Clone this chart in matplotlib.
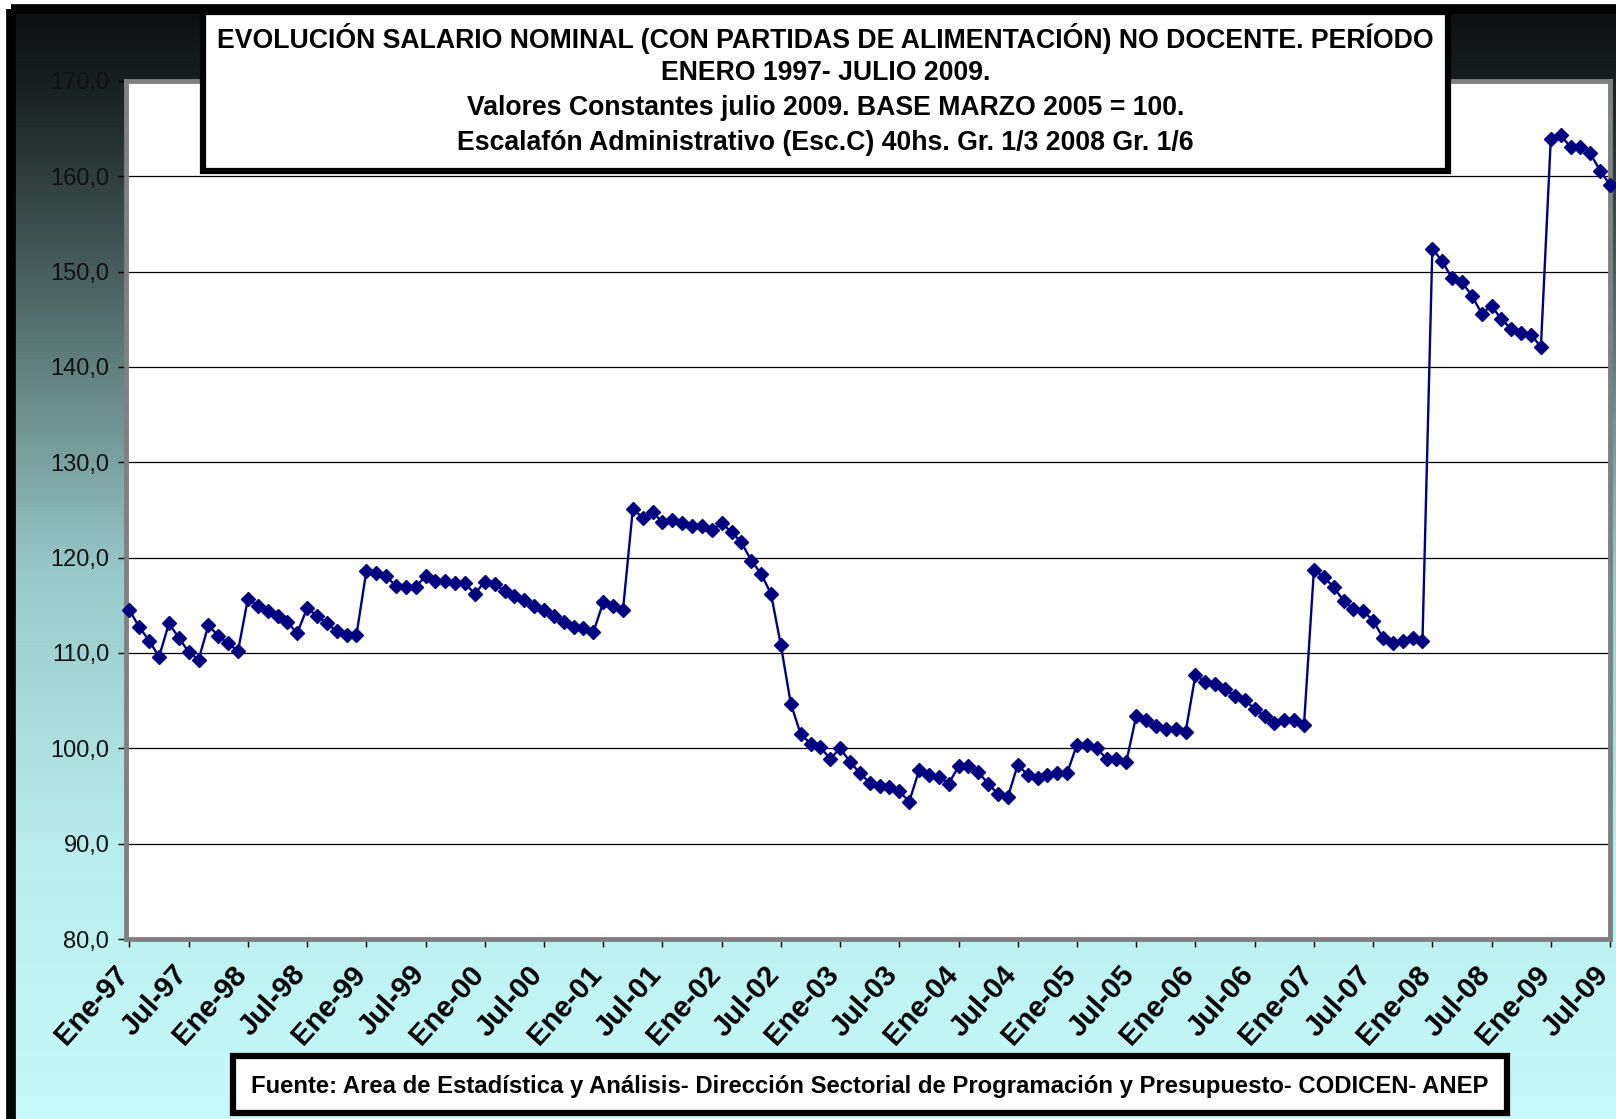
import numpy as np
import matplotlib
matplotlib.use("Agg")
import matplotlib.pyplot as plt
from matplotlib.patches import Rectangle
from matplotlib.ticker import FuncFormatter, FixedLocator
from matplotlib.transforms import ScaledTranslation

# ---------------- data ----------------
values_1997 = [114.5, 112.7, 111.3, 109.6, 113.1, 111.6, 110.1, 109.3, 112.9, 111.8, 111.0, 110.2]
values_1998 = [115.7, 114.9, 114.4, 113.9, 113.2, 112.1, 114.7, 113.9, 113.1, 112.3, 111.9, 111.9]
values_1999 = [118.6, 118.4, 118.1, 117.0, 116.9, 116.9, 118.1, 117.6, 117.6, 117.3, 117.3, 116.2]
values_2000 = [117.5, 117.2, 116.5, 116.0, 115.6, 114.9, 114.5, 113.9, 113.3, 112.7, 112.6, 112.2]
values_2001 = [115.3, 114.9, 114.5, 125.1, 124.2, 124.8, 123.7, 124.0, 123.6, 123.3, 123.3, 122.9]
values_2002 = [123.6, 122.7, 121.6, 119.7, 118.3, 116.2, 110.8, 104.7, 101.5, 100.5, 100.1, 98.9]
values_2003 = [100.0, 98.6, 97.4, 96.4, 96.1, 95.9, 95.5, 94.4, 97.7, 97.2, 97.0, 96.3]
values_2004 = [98.1, 98.1, 97.5, 96.3, 95.2, 94.9, 98.3, 97.2, 96.9, 97.2, 97.4, 97.4]
values_2005 = [100.4, 100.4, 100.0, 98.9, 98.9, 98.6, 103.4, 103.0, 102.3, 102.0, 102.0, 101.7]
values_2006 = [107.7, 107.0, 106.7, 106.2, 105.5, 105.1, 104.1, 103.4, 102.7, 103.0, 103.0, 102.5]
values_2007 = [118.7, 118.0, 116.9, 115.5, 114.6, 114.4, 113.4, 111.6, 111.0, 111.3, 111.6, 111.3]
values_2008 = [152.4, 151.1, 149.3, 148.9, 147.5, 145.6, 146.4, 145.0, 144.0, 143.6, 143.4, 142.1]
values_2009 = [163.9, 164.3, 163.1, 163.1, 162.4, 160.6, 159.1]

values = (values_1997 + values_1998 + values_1999 + values_2000 + values_2001 +
          values_2002 + values_2003 + values_2004 + values_2005 + values_2006 +
          values_2007 + values_2008 + values_2009)

tick_labels = ["Ene-97", "Jul-97", "Ene-98", "Jul-98", "Ene-99", "Jul-99",
               "Ene-00", "Jul-00", "Ene-01", "Jul-01", "Ene-02", "Jul-02",
               "Ene-03", "Jul-03", "Ene-04", "Jul-04", "Ene-05", "Jul-05",
               "Ene-06", "Jul-06", "Ene-07", "Jul-07", "Ene-08", "Jul-08",
               "Ene-09", "Jul-09"]
y_ticks = [80, 90, 100, 110, 120, 130, 140, 150, 160, 170]

title_lines = ["EVOLUCIÓN SALARIO NOMINAL (CON PARTIDAS DE ALIMENTACIÓN) NO DOCENTE. PERÍODO",
               "ENERO 1997- JULIO 2009.",
               "Valores Constantes julio 2009. BASE MARZO 2005 = 100.",
               "Escalafón Administrativo (Esc.C) 40hs. Gr. 1/3 2008 Gr. 1/6"]
source_text = "Fuente: Area de Estadística y Análisis- Dirección Sectorial de Programación y Presupuesto- CODICEN- ANEP"

# ---------------- figure ----------------
W, H = 1616, 1119
plt.rcParams['font.family'] = ['Liberation Sans', 'DejaVu Sans']
fig = plt.figure(figsize=(W / 100, H / 100), dpi=100, facecolor='white')

# background gradient + black frame
bg = fig.add_axes([0, 0, 1, 1], zorder=-10)
bg.set_xlim(0, W)
bg.set_ylim(H, 0)
bg.axis('off')
nodes_y = [0.0, 0.08, 0.25, 0.5, 0.75, 1.0]
nodes_c = np.array([[0.05, 0.06, 0.06],
                    [0.11, 0.14, 0.14],
                    [0.30, 0.40, 0.39],
                    [0.60, 0.79, 0.79],
                    [0.73, 0.93, 0.93],
                    [0.78, 0.98, 0.98]])
yy = np.linspace(0, 1, 400)
grad = np.stack([np.interp(yy, nodes_y, nodes_c[:, k]) for k in range(3)], axis=-1)
grad = np.repeat(grad[:, None, :], 2, axis=1)
bg.imshow(grad, extent=(10, W + 20, H + 20, 9), aspect='auto', zorder=0)
bg.add_patch(Rectangle((11, 9), W + 20, H + 20, fill=False, ec='black', lw=7, zorder=1))

# main axes
L, R, T, B = 126, 1610, 81, 939
ax = fig.add_axes([L / W, 1 - B / H, (R - L) / W, (B - T) / H])
ax.set_facecolor('white')
x = np.arange(len(values))
ax.plot(x, values, color='#000080', lw=1.7, marker='D', ms=7,
        mfc='#000080', mec='#000080', clip_on=False, zorder=3)
ax.set_xlim(-0.35, len(values) - 1)
ax.set_ylim(80, 170)
ax.yaxis.set_major_locator(FixedLocator(y_ticks))
ax.yaxis.set_major_formatter(FuncFormatter(lambda v, p: f"{v:.1f}".replace('.', ',')))
ax.grid(axis='y', color='black', lw=0.9)
ax.set_axisbelow(True)
ax.set_xticks(np.arange(0, len(values), 6))
ax.tick_params(axis='x', length=6, width=1, color='black', pad=14, direction='out')
ax.tick_params(axis='y', length=6, width=1, color='black', pad=6, labelsize=17,
               labelcolor='#111111')
ax.set_xticklabels(tick_labels, rotation=48, ha='right', va='center',
                   rotation_mode='anchor', fontweight='bold', fontsize=21)
off = ScaledTranslation(-0.06, -0.03, fig.dpi_scale_trans)
for lab in ax.get_xticklabels():
    lab.set_transform(lab.get_transform() + off)
for s in ax.spines.values():
    s.set_color('#808080')
    s.set_linewidth(3.5)

# title box
tx0, ty0, tx1, ty1 = 203, 12, 1448, 171
fig.patches.append(Rectangle((tx0 / W, 1 - ty1 / H), (tx1 - tx0) / W, (ty1 - ty0) / H,
                             transform=fig.transFigure, fc='white', ec='black',
                             lw=4.5, zorder=5))
for i, line in enumerate(title_lines):
    fig.text((tx0 + tx1) / 2 / W, 1 - (39 + 34.5 * i) / H, line, ha='center', va='center',
             fontsize=19.2, fontweight='bold', color='black', zorder=6)

# source box
sx0, sy0, sx1, sy1 = 233, 1056, 1507, 1113
fig.patches.append(Rectangle((sx0 / W, 1 - sy1 / H), (sx1 - sx0) / W, (sy1 - sy0) / H,
                             transform=fig.transFigure, fc='white', ec='black',
                             lw=4.5, zorder=5))
fig.text((sx0 + sx1) / 2 / W, 1 - 1086 / H, source_text, ha='center', va='center',
         fontsize=17.2, fontweight='bold', color='black', zorder=6)

fig.savefig('out.png', dpi=100, facecolor='white')
